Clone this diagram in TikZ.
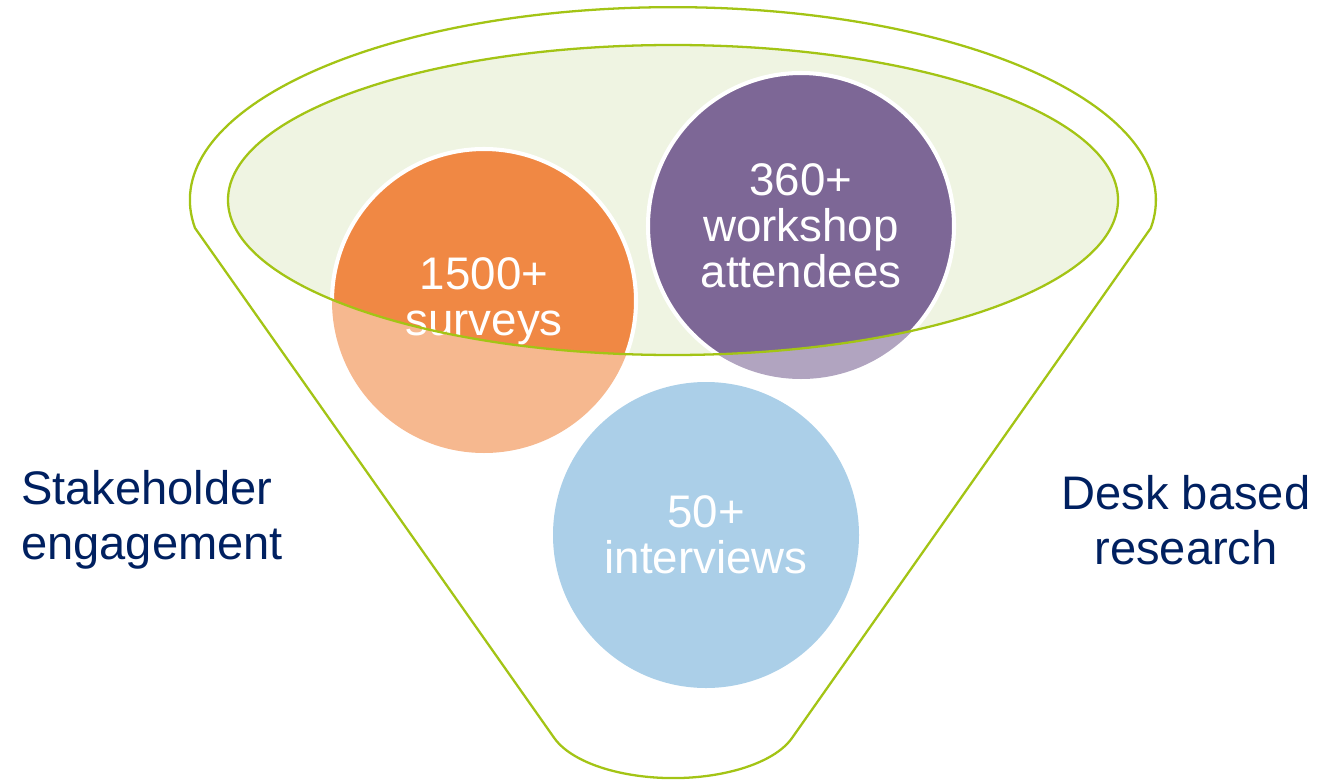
\documentclass[tikz,border=0pt]{standalone}
\usepackage{fontspec, xcolor}
\setmainfont{Liberation Sans}
\definecolor{funnelgreen}{RGB}{163,196,21}
\definecolor{bowlgreen}{RGB}{239,244,226}
\definecolor{surveyorange}{RGB}{240,136,68}
\definecolor{workshoppurple}{RGB}{125,103,150}
\definecolor{interviewblue}{RGB}{171,207,232}
\definecolor{labelnavy}{RGB}{0,32,96}

\begin{document}
\begin{tikzpicture}[x=0.02cm, y=0.02cm,
    figure/.style = {text=white, align=center, font=\fontsize{26}{26.3}\selectfont},
    side/.style = {text=labelnavy, font=\fontsize{26.8}{31}\selectfont}]
    \useasboundingbox (0,0) rectangle (1317,779);
    \coordinate (bowl) at (673,579);
    \coordinate (S) at (484,478);
    \coordinate (W) at (801,553);
    \coordinate (I) at (706,244);
    % funnel outline
    \draw [funnelgreen, line width=1.3pt] (195,551)
        arc [start angle=188.3, end angle=-8.3, x radius=483, y radius=193]
        -- (792,41)
        arc [start angle=342, end angle=198, x radius=125, y radius=58]
        -- cycle;
    \fill [bowlgreen] (bowl) ellipse [x radius=445, y radius=155];
    % circles, faded below the bowl
    \fill [interviewblue] (I) circle (153);
    \fill [surveyorange!60] (S) circle (152);
    \fill [workshoppurple!60] (W) circle (153);
    \begin{scope}
        \clip (bowl) ellipse [x radius=445, y radius=155];
        \filldraw [fill=surveyorange, draw=white, line width=2.3pt] (S) circle (152);
        \filldraw [fill=workshoppurple, draw=white, line width=2.3pt] (W) circle (153);
    \end{scope}
    \node [figure] (surveys) at (S) {1500+\\surveys};
    \node [figure] (workshop) at (W) {360+\\workshop\\attendees};
    \node [figure] (interviews) at (I) {50+\\interviews};
    \draw [funnelgreen, line width=1.3pt] (bowl) ellipse [x radius=445, y radius=155];
    % side labels
    \node [side, anchor=west, align=left] (stakeholder) at (15,259) {Stakeholder\\engagement};
    \node [side, align=center] (desk) at (1186,259) {Desk based\\research};
\end{tikzpicture}
\end{document}
